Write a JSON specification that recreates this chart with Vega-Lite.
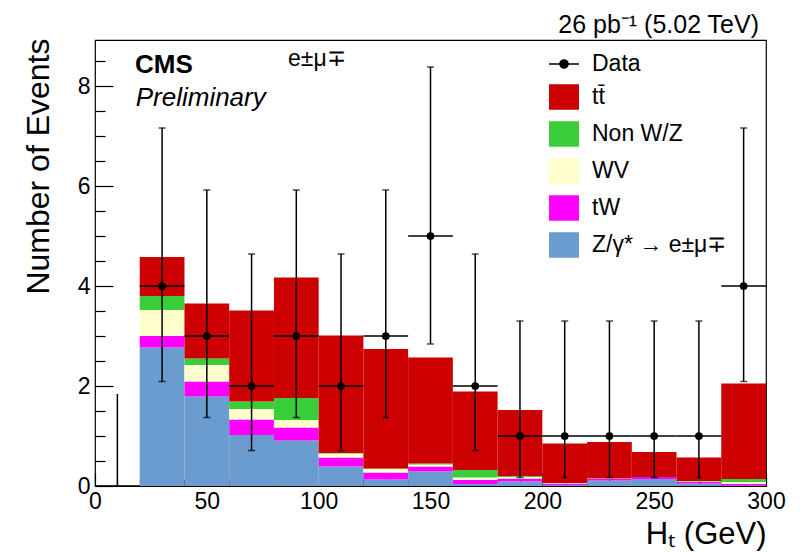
{
  "$schema": "https://vega.github.io/schema/vega-lite/v6.json",
  "width": 671,
  "height": 446,
  "autosize": {"type": "none"},
  "padding": {"left": 95, "top": 40, "right": 41, "bottom": 66},
  "background": "white",
  "title": {"text": "26 pb⁻¹ (5.02 TeV)", "anchor": "end", "frame": "group", "fontSize": 25, "fontWeight": "normal", "font": "Liberation Sans", "color": "black", "offset": 8, "dx": -7, "dy": 28, "baseline": "alphabetic"},
  "config": {
    "view": {"stroke": "black", "strokeWidth": 1.2},
    "font": "Liberation Sans",
    "axis": {"grid": false, "domain": false, "labelFont": "Liberation Sans", "labelColor": "black", "tickColor": "black", "titleFont": "Liberation Sans", "titleColor": "black", "titleFontWeight": "normal", "tickWidth": 1.2, "labelFlush": false, "labelOverlap": false}
  },
  "datasets": {
    "mc": [
      {"lo": 20, "hi": 40, "proc": "Z/γ* → e±μ∓", "v": 2.77},
      {"lo": 20, "hi": 40, "proc": "tW", "v": 0.23},
      {"lo": 20, "hi": 40, "proc": "WV", "v": 0.52},
      {"lo": 20, "hi": 40, "proc": "Non W/Z", "v": 0.28},
      {"lo": 20, "hi": 40, "proc": "tt̄", "v": 0.78},
      {"lo": 40, "hi": 60, "proc": "Z/γ* → e±μ∓", "v": 1.79},
      {"lo": 40, "hi": 60, "proc": "tW", "v": 0.30},
      {"lo": 40, "hi": 60, "proc": "WV", "v": 0.33},
      {"lo": 40, "hi": 60, "proc": "Non W/Z", "v": 0.13},
      {"lo": 40, "hi": 60, "proc": "tt̄", "v": 1.10},
      {"lo": 60, "hi": 80, "proc": "Z/γ* → e±μ∓", "v": 1.02},
      {"lo": 60, "hi": 80, "proc": "tW", "v": 0.31},
      {"lo": 60, "hi": 80, "proc": "WV", "v": 0.21},
      {"lo": 60, "hi": 80, "proc": "Non W/Z", "v": 0.15},
      {"lo": 60, "hi": 80, "proc": "tt̄", "v": 1.82},
      {"lo": 80, "hi": 100, "proc": "Z/γ* → e±μ∓", "v": 0.91},
      {"lo": 80, "hi": 100, "proc": "tW", "v": 0.26},
      {"lo": 80, "hi": 100, "proc": "WV", "v": 0.15},
      {"lo": 80, "hi": 100, "proc": "Non W/Z", "v": 0.44},
      {"lo": 80, "hi": 100, "proc": "tt̄", "v": 2.41},
      {"lo": 100, "hi": 120, "proc": "Z/γ* → e±μ∓", "v": 0.39},
      {"lo": 100, "hi": 120, "proc": "tW", "v": 0.18},
      {"lo": 100, "hi": 120, "proc": "WV", "v": 0.08},
      {"lo": 100, "hi": 120, "proc": "Non W/Z", "v": 0.01},
      {"lo": 100, "hi": 120, "proc": "tt̄", "v": 2.35},
      {"lo": 120, "hi": 140, "proc": "Z/γ* → e±μ∓", "v": 0.13},
      {"lo": 120, "hi": 140, "proc": "tW", "v": 0.14},
      {"lo": 120, "hi": 140, "proc": "WV", "v": 0.07},
      {"lo": 120, "hi": 140, "proc": "Non W/Z", "v": 0.01},
      {"lo": 120, "hi": 140, "proc": "tt̄", "v": 2.39},
      {"lo": 140, "hi": 160, "proc": "Z/γ* → e±μ∓", "v": 0.29},
      {"lo": 140, "hi": 160, "proc": "tW", "v": 0.10},
      {"lo": 140, "hi": 160, "proc": "WV", "v": 0.04},
      {"lo": 140, "hi": 160, "proc": "Non W/Z", "v": 0.02},
      {"lo": 140, "hi": 160, "proc": "tt̄", "v": 2.12},
      {"lo": 160, "hi": 180, "proc": "Z/γ* → e±μ∓", "v": 0.04},
      {"lo": 160, "hi": 180, "proc": "tW", "v": 0.08},
      {"lo": 160, "hi": 180, "proc": "WV", "v": 0.05},
      {"lo": 160, "hi": 180, "proc": "Non W/Z", "v": 0.15},
      {"lo": 160, "hi": 180, "proc": "tt̄", "v": 1.57},
      {"lo": 180, "hi": 200, "proc": "Z/γ* → e±μ∓", "v": 0.09},
      {"lo": 180, "hi": 200, "proc": "tW", "v": 0.06},
      {"lo": 180, "hi": 200, "proc": "WV", "v": 0.03},
      {"lo": 180, "hi": 200, "proc": "Non W/Z", "v": 0.02},
      {"lo": 180, "hi": 200, "proc": "tt̄", "v": 1.32},
      {"lo": 200, "hi": 220, "proc": "Z/γ* → e±μ∓", "v": 0.02},
      {"lo": 200, "hi": 220, "proc": "tW", "v": 0.03},
      {"lo": 200, "hi": 220, "proc": "WV", "v": 0.01},
      {"lo": 200, "hi": 220, "proc": "Non W/Z", "v": 0.0},
      {"lo": 200, "hi": 220, "proc": "tt̄", "v": 0.79},
      {"lo": 220, "hi": 240, "proc": "Z/γ* → e±μ∓", "v": 0.11},
      {"lo": 220, "hi": 240, "proc": "tW", "v": 0.03},
      {"lo": 220, "hi": 240, "proc": "WV", "v": 0.01},
      {"lo": 220, "hi": 240, "proc": "Non W/Z", "v": 0.0},
      {"lo": 220, "hi": 240, "proc": "tt̄", "v": 0.73},
      {"lo": 240, "hi": 260, "proc": "Z/γ* → e±μ∓", "v": 0.14},
      {"lo": 240, "hi": 260, "proc": "tW", "v": 0.04},
      {"lo": 240, "hi": 260, "proc": "WV", "v": 0.0},
      {"lo": 240, "hi": 260, "proc": "Non W/Z", "v": 0.0},
      {"lo": 240, "hi": 260, "proc": "tt̄", "v": 0.50},
      {"lo": 260, "hi": 280, "proc": "Z/γ* → e±μ∓", "v": 0.05},
      {"lo": 260, "hi": 280, "proc": "tW", "v": 0.03},
      {"lo": 260, "hi": 280, "proc": "WV", "v": 0.01},
      {"lo": 260, "hi": 280, "proc": "Non W/Z", "v": 0.01},
      {"lo": 260, "hi": 280, "proc": "tt̄", "v": 0.47},
      {"lo": 280, "hi": 300, "proc": "Z/γ* → e±μ∓", "v": 0.01},
      {"lo": 280, "hi": 300, "proc": "tW", "v": 0.03},
      {"lo": 280, "hi": 300, "proc": "WV", "v": 0.04},
      {"lo": 280, "hi": 300, "proc": "Non W/Z", "v": 0.06},
      {"lo": 280, "hi": 300, "proc": "tt̄", "v": 1.91}
    ],
    "obs": [
      {"c": 10, "lo": 0, "hi": 20, "n": 0, "elo": 0, "ehi": 1.84},
      {"c": 30, "lo": 20, "hi": 40, "n": 4, "elo": 2.09, "ehi": 7.16},
      {"c": 50, "lo": 40, "hi": 60, "n": 3, "elo": 1.37, "ehi": 5.92},
      {"c": 70, "lo": 60, "hi": 80, "n": 2, "elo": 0.71, "ehi": 4.64},
      {"c": 90, "lo": 80, "hi": 100, "n": 3, "elo": 1.37, "ehi": 5.92},
      {"c": 110, "lo": 100, "hi": 120, "n": 2, "elo": 0.71, "ehi": 4.64},
      {"c": 130, "lo": 120, "hi": 140, "n": 3, "elo": 1.37, "ehi": 5.92},
      {"c": 150, "lo": 140, "hi": 160, "n": 5, "elo": 2.84, "ehi": 8.38},
      {"c": 170, "lo": 160, "hi": 180, "n": 2, "elo": 0.71, "ehi": 4.64},
      {"c": 190, "lo": 180, "hi": 200, "n": 1, "elo": 0.17, "ehi": 3.30},
      {"c": 210, "lo": 200, "hi": 220, "n": 1, "elo": 0.17, "ehi": 3.30},
      {"c": 230, "lo": 220, "hi": 240, "n": 1, "elo": 0.17, "ehi": 3.30},
      {"c": 250, "lo": 240, "hi": 260, "n": 1, "elo": 0.17, "ehi": 3.30},
      {"c": 270, "lo": 260, "hi": 280, "n": 1, "elo": 0.17, "ehi": 3.30},
      {"c": 290, "lo": 280, "hi": 300, "n": 4, "elo": 2.09, "ehi": 7.16}
    ]
  },
  "resolve": {"axis": {"x": "independent", "y": "independent"}},
  "layer": [
    {
      "data": {"name": "mc"},
      "transform": [
        {"calculate": "indexof(['Z/γ* → e±μ∓','tW','WV','Non W/Z','tt̄'], datum.proc)", "as": "k"},
        {"stack": "v", "groupby": ["lo"], "sort": [{"field": "k", "order": "ascending"}], "as": ["y0", "y1"], "offset": "zero"}
      ],
      "mark": {"type": "bar", "strokeWidth": 0},
      "encoding": {
        "x": {"field": "lo", "type": "quantitative", "scale": {"domain": [0, 300], "nice": false, "zero": false},
          "axis": {"orient": "bottom", "values": [0, 50, 100, 150, 200, 250, 300], "tickSize": -13, "labelPadding": 17, "labelFontSize": 23, "title": "Hₜ (GeV)", "titleFontSize": 31, "titleAnchor": "end", "titleAlign": "right", "titleX": 671, "titleY": 57, "titleBaseline": "alphabetic"}},
        "x2": {"field": "hi"},
        "y": {"field": "y0", "type": "quantitative", "scale": {"domain": [0, 8.92], "nice": false},
          "axis": {"orient": "left", "values": [0, 2, 4, 6, 8], "tickSize": -18, "labelPadding": 23, "labelFontSize": 23, "title": "Number of Events", "titleFontSize": 32, "titleAnchor": "end", "titleAlign": "right", "titleAngle": -90, "titleX": -47, "titleY": -2, "titleBaseline": "alphabetic"}},
        "y2": {"field": "y1"},
        "color": {"field": "proc", "type": "nominal",
          "scale": {"domain": ["Data", "tt̄", "Non W/Z", "WV", "tW", "Z/γ* → e±μ∓"], "range": ["#000000", "#cc0000", "#3acd3a", "#ffffcc", "#ff00ff", "#6a9ccf"]},
          "legend": {"orient": "none", "legendX": 453, "legendY": 8, "title": null, "padding": 0, "labelFont": "Liberation Sans", "labelFontSize": 23, "labelColor": "black", "labelOffset": 12, "symbolSize": 900, "rowPadding": 5, "labelLimit": 300,
            "encode": {"symbols": {"update": {
              "shape": {"signal": "datum.value === 'Data' ? 'M-1,0H1M0.27,0A0.27,0.27,0,1,1,-0.27,0A0.27,0.27,0,1,1,0.27,0Z' : 'M-1,-0.85H1V0.85H-1Z'"},
              "stroke": {"signal": "datum.value === 'Data' ? 'black' : 'transparent'"},
              "strokeWidth": {"value": 1.5},
              "opacity": {"value": 1}
            }}}}}
      }
    },
    {
      "data": {"name": "obs"},
      "mark": {"type": "rule", "color": "black", "strokeWidth": 1.5},
      "encoding": {
        "x": {"field": "lo", "type": "quantitative",
          "axis": {"orient": "bottom", "values": [10, 20, 30, 40, 60, 70, 80, 90, 110, 120, 130, 140, 160, 170, 180, 190, 210, 220, 230, 240, 260, 270, 280, 290], "tickSize": -7, "labels": false, "title": null, "domain": false}},
        "x2": {"field": "hi"},
        "y": {"field": "n", "type": "quantitative",
          "axis": {"orient": "left", "values": [0.5, 1, 1.5, 2.5, 3, 3.5, 4.5, 5, 5.5, 6.5, 7, 7.5, 8.5], "tickSize": -10, "labels": false, "title": null, "domain": false}}
      }
    },
    {
      "data": {"name": "obs"},
      "mark": {"type": "rule", "color": "black", "strokeWidth": 1.5},
      "encoding": {
        "x": {"field": "c", "type": "quantitative", "axis": null},
        "y": {"field": "elo", "type": "quantitative", "axis": null},
        "y2": {"field": "ehi"}
      }
    },
    {
      "data": {"name": "obs"},
      "transform": [{"filter": "datum.n > 0"}, {"fold": ["elo", "ehi"], "as": ["which", "yy"]}],
      "mark": {"type": "tick", "orient": "horizontal", "size": 7, "thickness": 1.5, "color": "black"},
      "encoding": {
        "x": {"field": "c", "type": "quantitative", "axis": null},
        "y": {"field": "yy", "type": "quantitative", "axis": null}
      }
    },
    {
      "data": {"name": "obs"},
      "transform": [{"filter": "datum.n > 0"}],
      "mark": {"type": "point", "filled": true, "size": 60, "color": "black", "opacity": 1},
      "encoding": {
        "x": {"field": "c", "type": "quantitative", "axis": null},
        "y": {"field": "n", "type": "quantitative", "axis": null}
      }
    },
    {
      "data": {"values": [{"x": 17.9, "y": 8.26, "t": "CMS"}]},
      "mark": {"type": "text", "font": "Liberation Sans", "fontSize": 26, "fontWeight": "bold", "align": "left", "baseline": "alphabetic", "color": "black"},
      "encoding": {
        "x": {"field": "x", "type": "quantitative", "axis": null},
        "y": {"field": "y", "type": "quantitative", "axis": null},
        "text": {"field": "t"}
      }
    },
    {
      "data": {"values": [{"x": 18.2, "y": 7.6, "t": "Preliminary"}]},
      "mark": {"type": "text", "font": "Liberation Sans", "fontSize": 26, "fontStyle": "italic", "align": "left", "baseline": "alphabetic", "color": "black"},
      "encoding": {
        "x": {"field": "x", "type": "quantitative", "axis": null},
        "y": {"field": "y", "type": "quantitative", "axis": null},
        "text": {"field": "t"}
      }
    },
    {
      "data": {"values": [{"x": 86.3, "y": 8.4, "t": "e±μ∓"}]},
      "mark": {"type": "text", "font": "Liberation Sans", "fontSize": 23, "align": "left", "baseline": "alphabetic", "color": "black"},
      "encoding": {
        "x": {"field": "x", "type": "quantitative", "axis": null},
        "y": {"field": "y", "type": "quantitative", "axis": null},
        "text": {"field": "t"}
      }
    }
  ]
}
